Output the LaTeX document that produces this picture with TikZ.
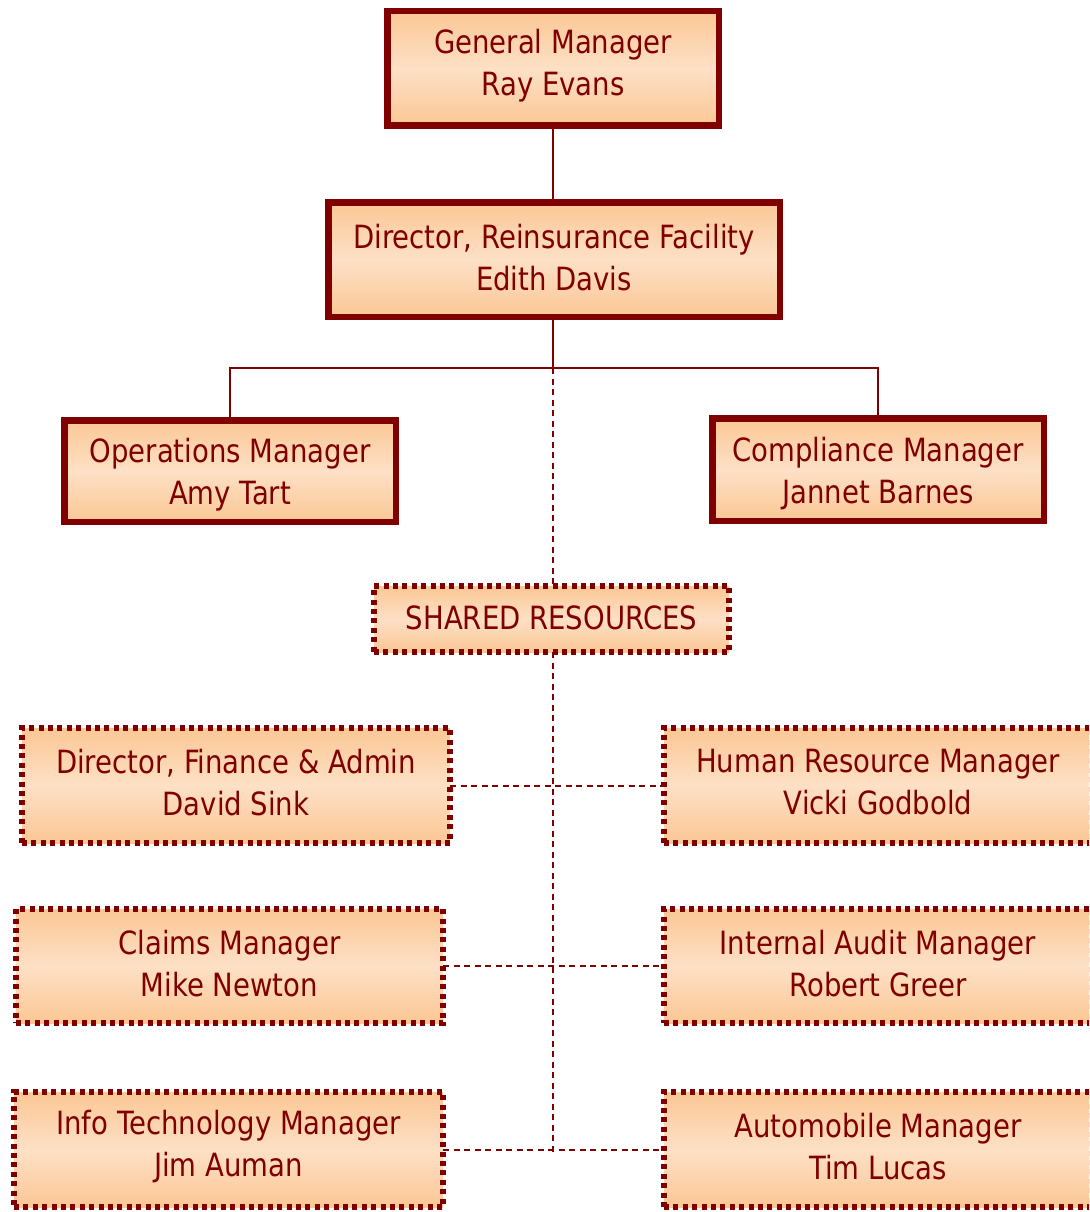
\documentclass[tikz,border=0pt]{standalone}
\usepackage{fontspec}
\setmainfont{DejaVu Sans}[FakeStretch=0.86]
\definecolor{dred}{HTML}{800000}
\definecolor{peach}{HTML}{FBC794}
\definecolor{peachlight}{HTML}{FDE0C6}
\begin{document}
\begin{tikzpicture}[x=1pt,y=-1pt,
  basebox/.style={rectangle, inner sep=0pt, outer sep=0pt,
    top color=peach, bottom color=peach, middle color=peachlight},
  solidbox/.style={basebox, draw=dred, line width=6.5pt},
  dotbox/.style={basebox, draw=dred, line width=6pt, dash pattern=on 5pt off 4.4pt},
  txt/.style={inner sep=0pt, align=center, text=dred, font=\fontsize{32}{42}\selectfont},
  conn/.style={draw=dred, line width=2pt},
  dconn/.style={draw=dred, line width=2pt, dash pattern=on 6pt off 4.5pt}]
\useasboundingbox (0,0) rectangle (1089,1212);
\clip (0,0) rectangle (1089,1212);
% solid boxes
\node[solidbox, minimum width=331.5pt, minimum height=114.5pt] (gm) at (553,68.5) {};
\node[txt] (gmt) at (553,65.5) {General Manager\\Ray Evans};
\node[solidbox, minimum width=451.5pt, minimum height=114.5pt] (dir) at (554,259.5) {};
\node[txt] (dirt) at (554,257.5) {Director, Reinsurance Facility\\Edith Davis};
\node[solidbox, minimum width=331.5pt, minimum height=101.5pt] (ops) at (230,471) {};
\node[txt] (opst) at (230,474.5) {Operations Manager\\Amy Tart};
\node[solidbox, minimum width=331.5pt, minimum height=102.5pt] (comp) at (878,469.5) {};
\node[txt] (compt) at (878,473.5) {Compliance Manager\\Jannet Barnes};
% dotted boxes
\node[dotbox, minimum width=355pt, minimum height=66pt] (sr) at (551.5,619) {};
\node[txt] (srt) at (551.5,618) {SHARED RESOURCES};
\node[dotbox, minimum width=428pt, minimum height=115pt] (dfa) at (236,785.5) {};
\node[txt] (dfat) at (236,782.5) {Director, Finance \& Admin\\David Sink};
\node[dotbox, minimum width=428pt, minimum height=115pt] (hr) at (878,785.5) {};
\node[txt] (hrt) at (878,782.5) {Human Resource Manager\\Vicki Godbold};
\node[dotbox, minimum width=427pt, minimum height=114pt] (cl) at (229.5,966) {};
\node[txt] (clt) at (229.5,963.5) {Claims Manager\\Mike Newton};
\node[dotbox, minimum width=428pt, minimum height=114pt] (ia) at (878,966) {};
\node[txt] (iat) at (878,963.5) {Internal Audit Manager\\Robert Greer};
\node[dotbox, minimum width=429pt, minimum height=115pt] (it) at (228.5,1149.5) {};
\node[txt] (itt) at (228.5,1146.5) {Info Technology Manager\\Jim Auman};
\node[dotbox, minimum width=428pt, minimum height=115pt] (am) at (878,1149.5) {};
\node[txt] (amt) at (878,1146.5) {Automobile Manager\\Tim Lucas};
% connectors
\coordinate (j) at (553,368);
\coordinate (bend) at (553,1152);
\draw[conn] (gm.south -| 553,0) -- (dir.north -| 553,0);
\draw[conn] (dir.south -| 553,0) -- (j);
\draw[conn] (ops.north) |- (j) -| (comp.north);
\draw[dconn] (j) -- (sr.north -| j);
\draw[dconn] (sr.south -| j) -- (bend);
\draw[dconn] (dfa.east) -- (hr.west);
\draw[dconn] (cl.east) -- (ia.west);
\draw[dconn] (it.east) -- (am.west);
\end{tikzpicture}
\end{document}
